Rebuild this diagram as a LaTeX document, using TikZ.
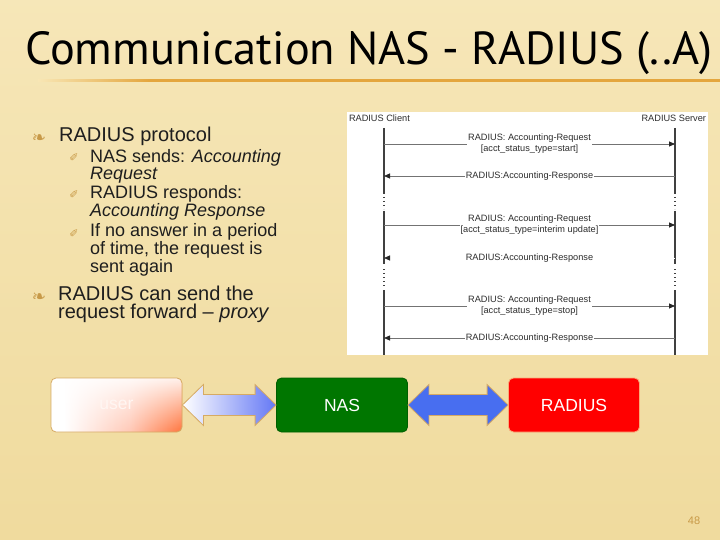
\documentclass[tikz,border=0pt]{standalone}
\usepackage{graphicx}
\usepackage{fontspec}
\setmainfont{Liberation Sans}
\newfontfamily\titlefont{PT Sans}
\newfontfamily\symbfont{DejaVu Sans}
\usepackage{tikz}
\usetikzlibrary{arrows.meta,calc,fadings}
\definecolor{cream}{RGB}{252,241,206}
\definecolor{sand}{RGB}{240,219,158}
\definecolor{rulefade}{RGB}{248,230,180}
\definecolor{rulecol}{RGB}{228,166,62}
\definecolor{tan}{RGB}{200,154,72}
\definecolor{ink}{RGB}{30,30,30}
\definecolor{seqink}{RGB}{45,45,45}
\definecolor{nasgreen}{RGB}{0,118,0}
\definecolor{radred}{RGB}{255,0,0}
\definecolor{royal}{RGB}{72,110,240}
\definecolor{paleblue}{RGB}{100,120,245}
\definecolor{userorange}{RGB}{255,95,30}
\definecolor{userpink}{RGB}{255,200,182}
\definecolor{usertext}{RGB}{255,246,242}
\definecolor{edge}{RGB}{214,170,100}
\definecolor{radedge}{RGB}{250,170,120}
\pgfdeclarehorizontalshading{usershade}{100bp}{color(0bp)=(white); color(30bp)=(white);
  color(55bp)=(userpink); color(80bp)=(userorange); color(100bp)=(userorange)}

\begin{document}
\begin{tikzpicture}[
  x=1pt,y=-1pt,
  topitem/.style={anchor=base west,inner sep=0,align=left,text=ink,
    font=\fontsize{20}{18.5}\selectfont},
  subitem/.style={anchor=base west,inner sep=0,align=left,text=ink,
    font=\fontsize{18}{16.5}\selectfont},
  bul/.style={text=tan,inner sep=0,font=\symbfont\fontsize{17}{17}\selectfont},
  subbul/.style={text=tan,inner sep=0,font=\symbfont\fontsize{11}{11}\selectfont},
  msglabel/.style={fill=white,text=seqink,inner sep=0.8pt,align=center,
    font=\fontsize{9.2}{11}\selectfont},
  lifeline/.style={draw=black!75,line width=1.1pt},
  gapdots/.style={draw=black!75,line width=1.4pt,dash pattern=on 1.4pt off 2.6pt},
  msg/.style={draw=black!55,line width=0.8pt,
    -{Triangle[length=6pt,width=5pt,black!85]}},
  box/.style={rounded corners=5pt,minimum width=131pt,minimum height=54pt,
    line width=0.8pt,font=\fontsize{17.5}{17.5}\selectfont,text=white},
  fat/.style={line width=0.8pt,draw=edge}
]
\useasboundingbox (0,0) rectangle (720,540);
\shade[top color=cream,bottom color=sand] (0,0) rectangle (720,540);
\shade[left color=sand,middle color=cream,right color=sand,opacity=0.45] (0,0) rectangle (720,540);

\node[anchor=base west,inner sep=0] (title) at (25,65)
  {\resizebox{687pt}{33pt}{\titlefont Communication NAS - RADIUS (..A)}};
\shade[left color=rulefade,right color=rulecol] (38,79.5) rectangle (150,82);
\fill[rulecol] (150,79.5) rectangle (720,82);

\node[bul] (b1) at (39,139) {❧};
\node[topitem] (proto) at (59,142) {RADIUS protocol};
\node[subbul] (s1) at (74,158) {✐};
\node[subitem] (sends) at (90,179.5) {NAS sends: \textit{Accounting}\\\textit{Request}};
\node[subbul] (s2) at (74,194.5) {✐};
\node[subitem] (responds) at (90,216.5) {RADIUS responds:\\\textit{Accounting Response}};
\node[subbul] (s3) at (74,234) {✐};
\node[subitem] (again) at (90,272) {If no answer in a period\\of time, the request is\\sent again};
\node[bul] (b2) at (39,298) {❧};
\node[topitem] (proxy) at (58,318.5) {RADIUS can send the\\request forward – \textit{proxy}};

\node[fill=white,minimum width=361pt,minimum height=243pt,anchor=north west,inner sep=0] (seq) at (347,112) {};
\node[msglabel,anchor=base west] (client) at (348,122) {RADIUS Client};
\node[msglabel,anchor=base east] (server) at (707,122) {RADIUS Server};
\coordinate (cl) at (384,128);
\coordinate (sv) at (675,128);
\foreach \l in {cl,sv} {
  \draw[lifeline] (\l) -- (\l |- 0,194) (\l |- 0,211) -- (\l |- 0,264) (\l |- 0,290) -- (\l |- 0,355);
  \draw[gapdots] (\l |- 0,197) -- (\l |- 0,209);
  \draw[gapdots] (\l |- 0,269) -- (\l |- 0,287);
}
\draw[msg] (cl |- 0,144) -- node[msglabel]{RADIUS: Accounting-Request\\{[}acct\_status\_type=start{]}} (sv |- 0,144);
\draw[msg] (sv |- 0,176) -- node[msglabel]{RADIUS:Accounting-Response} (cl |- 0,176);
\draw[msg] (cl |- 0,225) -- node[msglabel]{RADIUS: Accounting-Request\\{[}acct\_status\_type=interim update{]}} (sv |- 0,225);
\draw[msg,draw=white] (sv |- 0,258) -- node[msglabel]{RADIUS:Accounting-Response} (cl |- 0,258);
\draw[msg] (cl |- 0,306) -- node[msglabel]{RADIUS: Accounting-Request\\{[}acct\_status\_type=stop{]}} (sv |- 0,306);
\draw[msg] (sv |- 0,338) -- node[msglabel]{RADIUS:Accounting-Response} (cl |- 0,338);

\node[box,draw=edge,text=usertext,shading=usershade,
  path picture={\fill[white,path fading=south,fill opacity=0.9]
    (path picture bounding box.north west) rectangle (path picture bounding box.south east);}]
  (user) at (116.5,405) {user};
\node[box,draw=nasgreen!80!black,fill=nasgreen] (nas) at (342,405) {NAS};
\node[box,draw=radedge,fill=radred] (radius) at (574,405) {RADIUS};

\draw[fat,left color=white,right color=paleblue] (user.east)
  -- ($(user.east)+(21,-20.5)$) -- ($(user.east)+(21,-10.5)$)
  -- ($(nas.west)+(-21,-10.5)$) -- ($(nas.west)+(-21,-20.5)$) -- (nas.west)
  -- ($(nas.west)+(-21,20.5)$) -- ($(nas.west)+(-21,10.5)$)
  -- ($(user.east)+(21,10.5)$) -- ($(user.east)+(21,20.5)$) -- cycle;
\draw[fat,fill=royal] (nas.east)
  -- ($(nas.east)+(21,-20.5)$) -- ($(nas.east)+(21,-10.5)$)
  -- ($(radius.west)+(-21,-10.5)$) -- ($(radius.west)+(-21,-20.5)$) -- (radius.west)
  -- ($(radius.west)+(-21,20.5)$) -- ($(radius.west)+(-21,10.5)$)
  -- ($(nas.east)+(21,10.5)$) -- ($(nas.east)+(21,20.5)$) -- cycle;

\node[text=tan,inner sep=0,font=\fontsize{11}{11}\selectfont] (page) at (694,521) {48};
\end{tikzpicture}
\end{document}
